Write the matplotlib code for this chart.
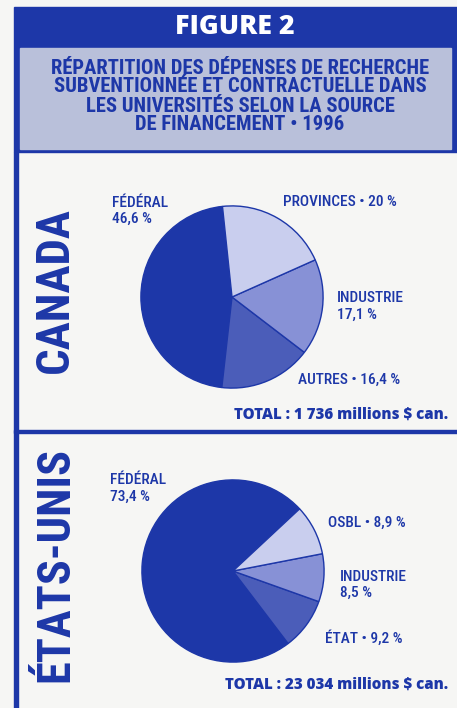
import matplotlib
matplotlib.use("Agg")
import matplotlib.pyplot as plt
from matplotlib.patches import Rectangle


# data
ca_labels = ["FÉDÉRAL", "AUTRES", "INDUSTRIE", "PROVINCES"]
ca_values = [46.6, 16.4, 17.1, 20.0]
us_labels = ["FÉDÉRAL", "ÉTAT", "INDUSTRIE", "OSBL"]
us_values = [73.4, 9.2, 8.5, 8.9]
ca_total = "TOTAL : 1 736 millions $ can."
us_total = "TOTAL : 23 034 millions $ can."
title_lines = ["RÉPARTITION DES DÉPENSES DE RECHERCHE",
               "SUBVENTIONNÉE ET CONTRACTUELLE DANS",
               "LES UNIVERSITÉS SELON LA SOURCE",
               "DE FINANCEMENT • 1996"]

# colours
dark = "#1d37a8"
slice_colors = [dark, "#4b5db9", "#8791d6", "#c9ceee"]
title_bg = "#b9c0da"
paper = "#f6f6f4"

narrow = ["Roboto Condensed", "Liberation Sans Narrow", "Liberation Sans", "DejaVu Sans"]
wide = ["Open Sans", "Liberation Sans", "DejaVu Sans"]

W, H = 457, 708
fig = plt.figure(figsize=(W / 100, H / 100), dpi=100, facecolor=paper)
ax = fig.add_axes([0, 0, 1, 1])
ax.set_xlim(0, W)
ax.set_ylim(H, 0)
ax.axis("off")
ax.set_facecolor(paper)

# frame
ax.add_patch(Rectangle((14, 7), W - 14, 145, color=dark, zorder=1))
ax.add_patch(Rectangle((20, 48), 431, 101, color=title_bg, zorder=2))
ax.add_patch(Rectangle((14, 152), 4, H - 152, color=dark, zorder=1))
ax.add_patch(Rectangle((14, 430), W - 14, 3, color=dark, zorder=1))

renderer = fig.canvas.get_renderer()


def fit(t, target, vertical=False):
    bb = t.get_window_extent(renderer)
    size = bb.height if vertical else bb.width
    t.set_fontsize(t.get_fontsize() * target / size)
    return t.get_fontsize()


def put(x, y, s, size, **kw):
    return ax.text(x, y, s, fontsize=size, zorder=5, **kw)


# header
t = put(235, 27, "FIGURE 2", 14, color="white", weight="heavy", family=wide,
        ha="center", va="center")
fit(t, 120)

t = put(240, 68, title_lines[0], 12, color=dark, weight="bold", family=narrow,
        ha="center", va="center")
tsize = fit(t, 380)
for line, y in zip(title_lines[1:], [87, 106, 125]):
    put(240, y, line, tsize, color=dark, weight="bold", family=narrow,
        ha="center", va="center")

# country names
t = put(55, 290, "CANADA", 30, color=dark, weight="heavy", family=narrow,
        rotation=90, ha="center", va="center")
fit(t, 166, vertical=True)
t = put(55, 565, "ÉTATS-UNIS", 30, color=dark, weight="heavy", family=narrow,
        rotation=90, ha="center", va="center")
fit(t, 235, vertical=True)


def pie(cx, cy, r, values, start):
    pa = fig.add_axes([(cx - r) / W, 1 - (cy + r) / H, 2 * r / W, 2 * r / H])
    pa.pie(values, colors=slice_colors, startangle=start, counterclock=True,
           wedgeprops=dict(edgecolor=dark, linewidth=1.0))
    pa.set_xlim(-1.01, 1.01)
    pa.set_ylim(-1.01, 1.01)
    pa.set_aspect("equal")
    pa.axis("off")


pie(232, 297, 92, ca_values, 96)
pie(233, 571, 92, us_values, 43)

# slice labels
lab = dict(color=dark, family=narrow, weight="medium", va="center")
t = put(283, 202, f"{ca_labels[3]} • {ca_values[3]:.0f} %", 10, **lab)
lsize = fit(t, 114)


def pct(v):
    return f"{v:.1f}".replace(".", ",") + " %"


put(112, 203, ca_labels[0], lsize, **lab)
put(112, 219, pct(ca_values[0]), lsize, **lab)
put(337, 298, ca_labels[2], lsize, **lab)
put(337, 315, pct(ca_values[2]), lsize, **lab)
put(298, 380, f"{ca_labels[1]} • {pct(ca_values[1])}", lsize, **lab)

put(110, 480, us_labels[0], lsize, **lab)
put(110, 497, pct(us_values[0]), lsize, **lab)
put(328, 523, f"{us_labels[3]} • {pct(us_values[3])}", lsize, **lab)
put(340, 577, us_labels[2], lsize, **lab)
put(340, 593, pct(us_values[2]), lsize, **lab)
put(325, 638, f"{us_labels[1]} • {pct(us_values[1])}", lsize, **lab)

# totals
t = put(448, 415, ca_total, 12, color=dark, weight="heavy", family=wide,
        ha="right", va="center")
fit(t, 215)
t = put(448, 685, us_total, 12, color=dark, weight="heavy", family=wide,
        ha="right", va="center")
fit(t, 225)

fig.savefig("out.png", dpi=100, facecolor=paper)
